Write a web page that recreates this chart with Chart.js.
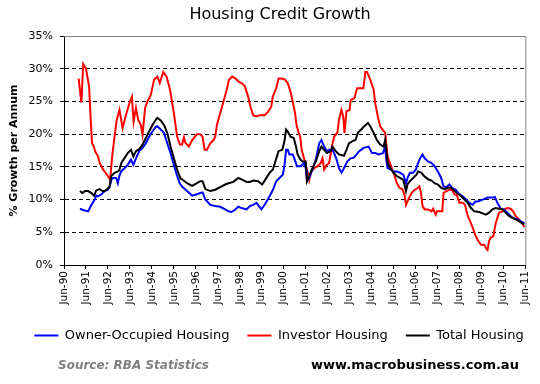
<!DOCTYPE html>
<html>
<head>
<meta charset="utf-8">
<script src="https://cdn.jsdelivr.net/npm/chart.js@4"></script>
<style>
body { margin: 0; background: #fff; }
#wrap { position: relative; width: 540px; height: 384px; }
#chart_title { position: absolute; left: 180px; width: 200px; top: 4px; text-align: center; font: 16px "DejaVu Sans"; color: #000; white-space: nowrap; }
#footer_src { position: absolute; left: 58px; top: 358px; font: italic bold 12px "DejaVu Sans"; color: #808080; }
#footer_web { position: absolute; left: 311px; top: 357px; font: bold 13px "DejaVu Sans"; color: #000; }
</style>
</head>
<body>
<div id="wrap">
<canvas id="chart_area" width="540" height="384"></canvas>
<div id="chart_title">Housing Credit Growth</div>
<div id="footer_src">Source: RBA Statistics</div>
<div id="footer_web">www.macrobusiness.com.au</div>
</div>
<script>
// x = months since Jun-90, y = % growth per annum
const seriesNames = ["Owner-Occupied Housing", "Investor Housing", "Total Housing"];
const seriesColours = ["#0000ff", "#ff0000", "#000000"];
const yTicks = [0, 5, 10, 15, 20, 25, 30, 35];
const tickYears = ["90","91","92","93","94","95","96","97","98","99","00","01","02","03","04","05","06","07","08","09","10","11"];

const ownerOccupied = [[8.7,8.6],[10.5,8.4],[13.2,8.2],[15,9.2],[16.8,10],[17.6,10.6],[18.5,10.5],[20.4,10.8],[22.2,11.3],[24,11.5],[24.9,11.9],[25.8,13],[26.7,13.3],[28.5,13.3],[29.4,12.5],[30.2,13.6],[31.2,14.3],[33,14.8],[34.8,15.3],[36.6,16.1],[37.9,15.3],[39.3,16.3],[41.1,17.4],[42.9,17.9],[44.7,18.6],[46.5,19.6],[48.3,20.4],[50.1,21.1],[51,21.2],[52.8,20.7],[54.6,20.2],[56.4,18.6],[58.2,17.1],[60,15.3],[61.8,13.6],[63.2,12.5],[64.5,12],[67.2,11.3],[70,10.6],[72.6,10.8],[74.4,11],[75.7,11.1],[77.2,10],[79.9,9.2],[82.6,9],[85.3,8.9],[88,8.5],[89.8,8.2],[91.5,8.1],[93.3,8.4],[95.2,8.9],[97,8.7],[99.7,8.5],[101.5,9],[103.3,9.2],[105.1,9.5],[107.8,8.5],[109.6,9.2],[112.3,10.5],[114.1,11.5],[115.9,12.8],[117.7,13.3],[119.5,13.8],[120.4,15.1],[121.3,17.6],[122.2,17.6],[123.1,16.9],[124.9,16.9],[125.8,16.3],[127.2,15.1],[129.4,15.1],[131.2,15.6],[132.2,14.6],[132.7,12.8],[133.9,13.3],[135.7,14.6],[137.5,16.1],[139.4,18.6],[140.6,19.1],[142.1,18.1],[143.6,17.4],[144.8,17.6],[146.6,17.6],[147.8,16.9],[148.9,16.1],[150.2,14.8],[151.6,14.1],[152.9,14.8],[154.7,15.8],[156.5,16.3],[158.3,16.4],[159.8,16.9],[161.2,17.4],[163.7,17.9],[166.4,18.1],[168.2,17.1],[170,17.1],[171.8,16.9],[174.2,17.1],[175.4,18.1],[176,16.1],[176.7,14.8],[178.4,14.6],[180,14.3],[181.8,14.3],[183.5,14.1],[185.3,13.8],[186.8,12.5],[187.6,13.3],[188.9,14.1],[190.7,14.1],[192.2,14.6],[193.4,15.6],[194.5,16.3],[195.8,16.9],[197,16.3],[198.9,15.8],[200.7,15.6],[202.4,15.1],[204.2,14.3],[206,13.3],[207.3,12],[208.8,11.9],[210.5,12.3],[212,11.8],[213.9,11.5],[215.6,10.9],[217.7,10.5],[219.6,10],[221.4,9.5],[223.2,9.2],[224.6,9.7],[226,9.7],[228.6,10],[231.3,10.3],[234,10.3],[235.3,10.4],[236.7,9.5],[238.5,8.6],[240.3,8.5],[242.1,8],[243.9,7.5],[245.7,7.1],[247.5,7],[249.3,6.7],[251.4,6.4]];

const investor = [[8,28.5],[9.5,24.8],[10.5,30.7],[12,30],[13.7,27.3],[14.6,22.2],[15.3,18.6],[16.3,18.1],[17,17.4],[18.6,16.6],[19.5,15.6],[21.3,14.6],[24,13.6],[25.2,13],[26.3,16.6],[27.6,19.6],[28.8,22.2],[30.3,23.7],[32,20.9],[33.8,22.9],[35.7,24.7],[37.1,25.7],[38,21.9],[39.3,24],[40.5,22.2],[42,21.4],[42.9,19.9],[44.3,24],[45.6,25],[47.4,26],[49.2,28.3],[51,28.8],[52.3,27.8],[54.2,29.5],[56,28.8],[57.9,26.8],[60,23.2],[61.8,19.6],[63.3,18.4],[64.5,18.4],[65.5,19.5],[66.4,18.6],[68.2,18.1],[70,19.1],[72.6,20],[74.4,20],[75.7,19.6],[76.8,17.6],[78,17.6],[79.9,18.6],[81.7,19.1],[82.6,19.6],[83.5,21.4],[85.3,23.2],[87.1,25],[88.9,26.8],[90.1,28.3],[91.9,28.8],[93.7,28.5],[95.5,28],[97,27.8],[98.8,27.3],[100.6,25.7],[102,24],[103.3,22.9],[105.1,22.7],[106.9,22.9],[109.6,22.9],[111.4,23.4],[113.2,24.2],[114,25.7],[115.9,27],[117.2,28.5],[118.6,28.5],[120.4,28.4],[122.2,27.8],[123.7,26.5],[124.9,25],[126.2,23.2],[127,21.4],[128.2,20.2],[129,19.6],[129.8,17.6],[131.3,16.1],[132.7,14.6],[133.9,13],[135,14.3],[136.7,14.8],[138.5,15.1],[140.3,15.6],[141.2,16.3],[142.1,14.6],[143.5,15.3],[144.8,15.6],[146.3,18.1],[147.5,19.6],[149.3,20.2],[150.2,22.2],[151.5,23.7],[152.5,22.7],[153.2,20.2],[154.3,23.5],[156,23.7],[156.6,25.2],[158.6,25.5],[160.1,27],[161.5,27],[163.5,27],[164.6,29.5],[165.5,29.5],[167.3,28.3],[169.1,26.8],[170,24.7],[171.4,22.7],[172.7,21.2],[174,20.7],[175.4,20.2],[176,18.6],[176.7,16.6],[178.4,15.3],[180,14.1],[181.8,12.5],[183.2,11.8],[184.8,11.6],[185.9,10.8],[186.8,9.2],[188,10],[189.8,11],[191.6,11.5],[193.4,11.8],[194.1,12],[195,11],[195.8,9],[197,8.5],[198.9,8.5],[200.7,8.2],[201.6,8.6],[203,7.7],[203.7,8.2],[205,8.2],[206.6,8.2],[207.3,11],[208.8,11.3],[210.5,11.5],[212,11.5],[213.3,10.8],[214.5,10.7],[216,9.5],[217.7,9.5],[219,9.2],[220.5,7.5],[221.8,6.7],[223.2,5.7],[224.6,4.6],[225.8,3.9],[227.7,3.1],[229.5,3.1],[230.4,2.6],[231.3,2.3],[232.2,3.7],[233.1,4.2],[234.5,4.4],[235.8,6.4],[237.6,8],[239.4,8.2],[240.3,8.5],[242.1,8.7],[243.9,8.6],[245.3,8.2],[246.6,7.5],[248.4,7],[250.2,6.4],[251.4,5.8]];

const totalHousing = [[8.7,11.3],[10,11],[11.5,11.3],[13.2,11.3],[15,11],[16.4,10.6],[17.6,11.4],[19.5,11.6],[21,11.3],[22.2,11.3],[23.6,11.6],[24.9,12],[25.8,13.6],[27.6,14.1],[29.4,14.3],[30.2,14.5],[31.3,15.6],[32.5,16.1],[34.8,17.1],[36.6,17.6],[37.9,16.6],[39.3,17.4],[41.1,17.7],[42.9,18.4],[44.7,19.4],[46.5,20.4],[48.3,21.4],[50.1,22.2],[51,22.5],[52.8,22.1],[54.6,21.4],[56.4,20.2],[58.2,18.1],[60,16.3],[61.8,14.6],[62.7,13.9],[63.7,13.2],[64.5,13.1],[67.2,12.5],[70,12.1],[72.6,12.5],[74.4,12.8],[75.7,12.8],[77.2,11.6],[79.9,11.3],[82.6,11.5],[85.3,11.9],[88,12.3],[89.8,12.5],[92.5,12.7],[95.2,13.3],[97,13.1],[99.7,12.7],[101.5,12.7],[103.3,12.9],[106,12.8],[108.2,12.3],[109.6,12.9],[112.3,14.1],[114.1,14.6],[115.4,15.8],[117.2,17.4],[119.2,17.6],[120.4,18.9],[121.3,20.7],[122.2,20.4],[123.7,19.6],[125.5,19.4],[126.7,18.1],[127.6,16.9],[129.2,16.1],[130.3,15.8],[132,15.8],[132.7,12.8],[133.9,13.6],[135.7,14.8],[137.5,15.8],[139.4,17.4],[140.6,18.1],[142.1,17.6],[143.6,17.1],[145.7,17.4],[146.6,18.1],[148.4,17.4],[150.2,16.9],[152.9,16.7],[154.3,17.6],[155.6,18.6],[157.4,18.9],[159.2,19.1],[160.5,20.2],[162.3,20.7],[164,21.2],[166,21.7],[167.3,21.2],[169.1,20.2],[170.9,19.1],[172.7,18.4],[174.5,18.1],[175.4,19.1],[176.3,16.9],[176.8,15.6],[178.1,14.8],[180,14.1],[181.7,13.6],[183.5,13.3],[185.3,13],[186.8,11.3],[187.6,12.3],[188.9,12.8],[190.7,13.3],[192.5,13.8],[193.4,14.3],[195.2,14.1],[197,13.5],[198.9,13.1],[200.7,12.9],[202.4,12.5],[204.2,12.3],[206,11.8],[207.8,11.6],[209.7,11.8],[211.5,11.8],[213.3,11.3],[215.1,10.9],[216.9,10.5],[218.7,10],[220.5,9.5],[222.3,8.7],[224.1,8.2],[226.8,8.1],[228.6,7.9],[230.4,7.7],[232.2,8],[234,8.5],[235.8,8.7],[237.6,8.6],[239.4,8.5],[241.2,8],[243,7.5],[244.8,7.2],[246.6,7],[248.4,6.7],[250.2,6.4],[251.4,6.2]];

const seriesData = [ownerOccupied, investor, totalHousing];

// grey frame on top/right of the plot, like the original
const plotFrame = {
    id: "plotFrame",
    afterLayout(chart) {
        // legend in the original sits a bit right of centre
        chart.legend.left += 14;
        chart.legend.right += 14;
        chart.legend.top += 2;
        chart.legend.bottom += 2;
    },
    beforeDatasetsDraw(chart) {
        const a = chart.chartArea;
        const ctx = chart.ctx;
        ctx.save();
        ctx.strokeStyle = "#808080";
        ctx.lineWidth = 1;
        ctx.beginPath();
        ctx.moveTo(a.left, a.top + 0.5);
        ctx.lineTo(a.right + 0.5, a.top + 0.5);
        ctx.lineTo(a.right + 0.5, a.bottom);
        ctx.stroke();
        ctx.restore();
    }
};

const ctx = document.getElementById("chart_area").getContext("2d");
const myChart = new Chart(ctx, {
    type: "line",
    data: {
        datasets: seriesNames.map(function(name, i) {
            return {
                label: name,
                data: seriesData[i].map(p => ({x: p[0], y: p[1]})),
                borderColor: seriesColours[i],
                backgroundColor: seriesColours[i],
                borderWidth: 2,
                pointRadius: 0,
                tension: 0,
                order: [1, 2, 0][i]
            };
        })
    },
    options: {
        responsive: false,
        animation: false,
        layout: { padding: { top: 36, left: 0, right: 10, bottom: 34 } },
        scales: {
            x: {
                type: "linear",
                min: 0,
                max: 252,
                afterBuildTicks: function(scale) {
                    scale.ticks = tickYears.map((y, i) => ({value: i * 12}));
                },
                ticks: {
                    autoSkip: false,
                    minRotation: 90,
                    maxRotation: 90,
                    padding: 2,
                    color: "#000",
                    font: { family: "DejaVu Sans", size: 10.5 },
                    callback: function(v) { return "Jun-" + tickYears[Math.round(v / 12)]; }
                },
                grid: { drawOnChartArea: false, drawTicks: true, tickLength: 4, color: "#000" },
                border: { color: "#000", width: 1 },
                afterFit: function(scale) { scale.height = 44; }
            },
            y: {
                min: 0,
                max: 35,
                afterBuildTicks: function(scale) {
                    scale.ticks = yTicks.map(v => ({value: v}));
                },
                ticks: {
                    padding: 7,
                    color: "#000",
                    font: { family: "DejaVu Sans", size: 11 },
                    callback: v => v + "%"
                },
                title: {
                    display: true,
                    text: "% Growth per Annum",
                    color: "#000",
                    font: { family: "DejaVu Sans", size: 11, weight: "bold" },
                    padding: { top: 8, bottom: 4 }
                },
                grid: {
                    color: c => (c.tick && (c.tick.value === 0 || c.tick.value === 35)) ? "rgba(0,0,0,0)" : "#000",
                    tickColor: "#000",
                    tickLength: 4,
                    lineWidth: 1
                },
                border: { color: "#000", width: 1, dash: [4, 3] },
                afterFit: function(scale) { scale.width = 64; }
            }
        },
        plugins: {
            title: { display: false },
            legend: {
                position: "bottom",
                labels: {
                    usePointStyle: true,
                    pointStyleWidth: 24,
                    pointStyle: "line",
                    boxHeight: 12,
                    padding: 18,
                    color: "#000",
                    font: { family: "DejaVu Sans", size: 13 },
                    sort: (a, b) => a.datasetIndex - b.datasetIndex
                }
            },
            tooltip: { enabled: false }
        }
    },
    plugins: [plotFrame]
});
</script>
</body>
</html>
